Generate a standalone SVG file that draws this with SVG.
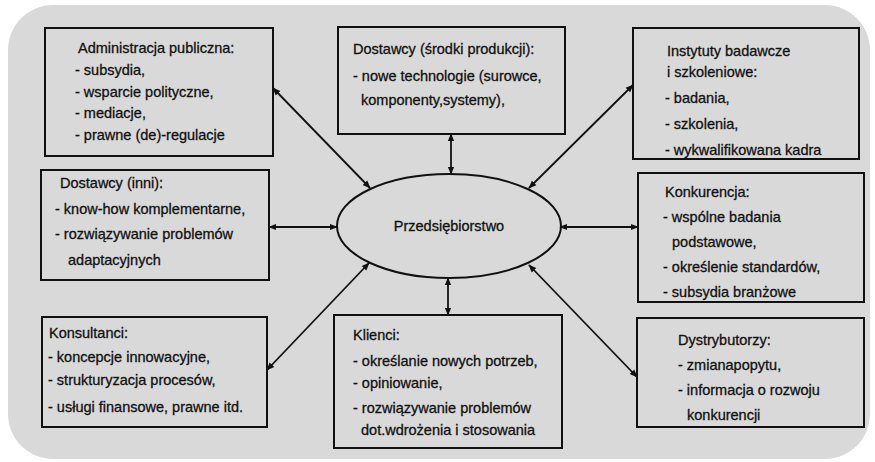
<svg xmlns="http://www.w3.org/2000/svg" width="875" height="462" viewBox="0 0 875 462">
<style>
.box{fill:none;stroke:#111;stroke-width:2}
.t{font-family:"Liberation Sans",Arial,sans-serif;font-size:14.5px;fill:#111;stroke:#111;stroke-width:0.3}
.c{stroke:#111;stroke-width:1.8;fill:none;marker-start:url(#ah);marker-end:url(#ah)}
</style>
<defs>
<marker id="ah" viewBox="0 0 10 10" refX="9" refY="5" markerWidth="8" markerHeight="8" markerUnits="userSpaceOnUse" orient="auto-start-reverse">
<path d="M0,1 L10,5 L0,9 z" fill="#111"/>
</marker>
</defs>
<rect x="0" y="0" width="875" height="462" fill="#ffffff"/>
<rect x="8" y="5" width="862" height="454" rx="45" ry="45" fill="#d9d9d9"/>

<g id="connectors">
<line class="c" x1="370" y1="188" x2="273" y2="88"/>
<line class="c" x1="451" y1="174" x2="451" y2="134"/>
<line class="c" x1="529" y1="188" x2="633" y2="85"/>
<line class="c" x1="337" y1="227" x2="269" y2="227"/>
<line class="c" x1="560" y1="227" x2="638" y2="227"/>
<line class="c" x1="369" y1="263" x2="267" y2="370"/>
<line class="c" x1="448" y1="278" x2="448" y2="315"/>
<line class="c" x1="529" y1="265" x2="637" y2="377"/>
</g>

<g id="administracja">
<rect class="box" x="45" y="28" width="228" height="128"/>
<text class="t" x="78" y="53">Administracja publiczna:</text>
<text class="t" x="75" y="75">- subsydia,</text>
<text class="t" x="75" y="97">- wsparcie polityczne,</text>
<text class="t" x="75" y="118">- mediacje,</text>
<text class="t" x="75" y="140">- prawne (de)-regulacje</text>
</g>

<g id="dostawcy-srodki">
<rect class="box" x="338" y="27" width="227" height="107"/>
<text class="t" x="353" y="54">Dostawcy (środki produkcji):</text>
<text class="t" x="353" y="81">- nowe technologie (surowce,</text>
<text class="t" x="361" y="105">komponenty,systemy),</text>
</g>

<g id="instytuty">
<rect class="box" x="633" y="28" width="226" height="131"/>
<text class="t" x="667" y="56">Instytuty badawcze</text>
<text class="t" x="667" y="77">i szkoleniowe:</text>
<text class="t" x="665" y="103">- badania,</text>
<text class="t" x="665" y="129">- szkolenia,</text>
<text class="t" x="665" y="155">- wykwalifikowana kadra</text>
</g>

<g id="dostawcy-inni">
<rect class="box" x="41" y="170" width="228" height="110"/>
<text class="t" x="60" y="188">Dostawcy (inni):</text>
<text class="t" x="55" y="214">- know-how komplementarne,</text>
<text class="t" x="55" y="239">- rozwiązywanie problemów</text>
<text class="t" x="68" y="265">adaptacyjnych</text>
</g>

<g id="przedsiebiorstwo">
<ellipse cx="449" cy="226" rx="112" ry="52" fill="none" stroke="#111" stroke-width="2"/>
<text class="t" x="449" y="231" text-anchor="middle">Przedsiębiorstwo</text>
</g>

<g id="konkurencja">
<rect class="box" x="638" y="173" width="226" height="129"/>
<text class="t" x="665" y="197">Konkurencja:</text>
<text class="t" x="663" y="222">- wspólne badania</text>
<text class="t" x="672" y="247">podstawowe,</text>
<text class="t" x="663" y="272">- określenie standardów,</text>
<text class="t" x="663" y="297">- subsydia branżowe</text>
</g>

<g id="konsultanci">
<rect class="box" x="42" y="317" width="225" height="110"/>
<text class="t" x="49" y="338">Konsultanci:</text>
<text class="t" x="48" y="362">- koncepcje innowacyjne,</text>
<text class="t" x="48" y="385">- strukturyzacja procesów,</text>
<text class="t" x="48" y="412">- usługi finansowe, prawne itd.</text>
</g>

<g id="klienci">
<rect class="box" x="334" y="315" width="228" height="133"/>
<text class="t" x="353" y="340">Klienci:</text>
<text class="t" x="353" y="366">- określanie nowych potrzeb,</text>
<text class="t" x="353" y="388">- opiniowanie,</text>
<text class="t" x="353" y="413">- rozwiązywanie problemów</text>
<text class="t" x="361" y="435">dot.wdrożenia i stosowania</text>
</g>

<g id="dystrybutorzy">
<rect class="box" x="637" y="318" width="227" height="109"/>
<text class="t" x="678" y="345">Dystrybutorzy:</text>
<text class="t" x="678" y="370">- zmianapopytu,</text>
<text class="t" x="678" y="395">- informacja o rozwoju</text>
<text class="t" x="687" y="420">konkurencji</text>
</g>
</svg>
